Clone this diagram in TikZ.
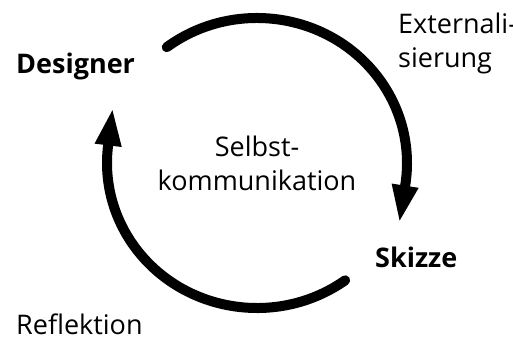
\documentclass[tikz,border=0pt]{standalone}
\usepackage{fontspec}
\setmainfont{Open Sans}
\usetikzlibrary{arrows.meta}

\begin{document}
\begin{tikzpicture}[x=1pt,y=1pt,
	label_node/.style={inner sep=0pt,font=\fontsize{27}{34}\selectfont},
	bold_node/.style={label_node,font=\fontsize{27}{34}\selectfont\bfseries},
	cycle_arc/.style={line width=10pt,line cap=round,-{Triangle[length=38pt,width=24pt]}}]
				\useasboundingbox (0,0) rectangle (513,337);
				\coordinate (c) at (257,174);
				\node[bold_node, anchor=base west](designer) at (16,263){Designer};
				\node[bold_node, anchor=base west](skizze) at (375,70){Skizze};
				\node[label_node, anchor=west, align=left](extern) at (398,294){Externali-\\sierung};
				\node[label_node, anchor=base west](reflexion) at (16,3){Reflektion};
				\node[label_node, align=center](selbst) at (c){Selbst-\\kommunikation};
				% Externalisierung: Designer -> Skizze
				\draw[cycle_arc] (c) ++(127:150 and 145) arc[start angle=127, end angle=-9, x radius=150, y radius=145] -- ++(-99:38);
				% Reflektion: Skizze -> Designer
				\draw[cycle_arc] (c) ++(-54:150 and 145) arc[start angle=-54, end angle=-187, x radius=150, y radius=145] -- ++(83:38);
			\end{tikzpicture}
\end{document}
